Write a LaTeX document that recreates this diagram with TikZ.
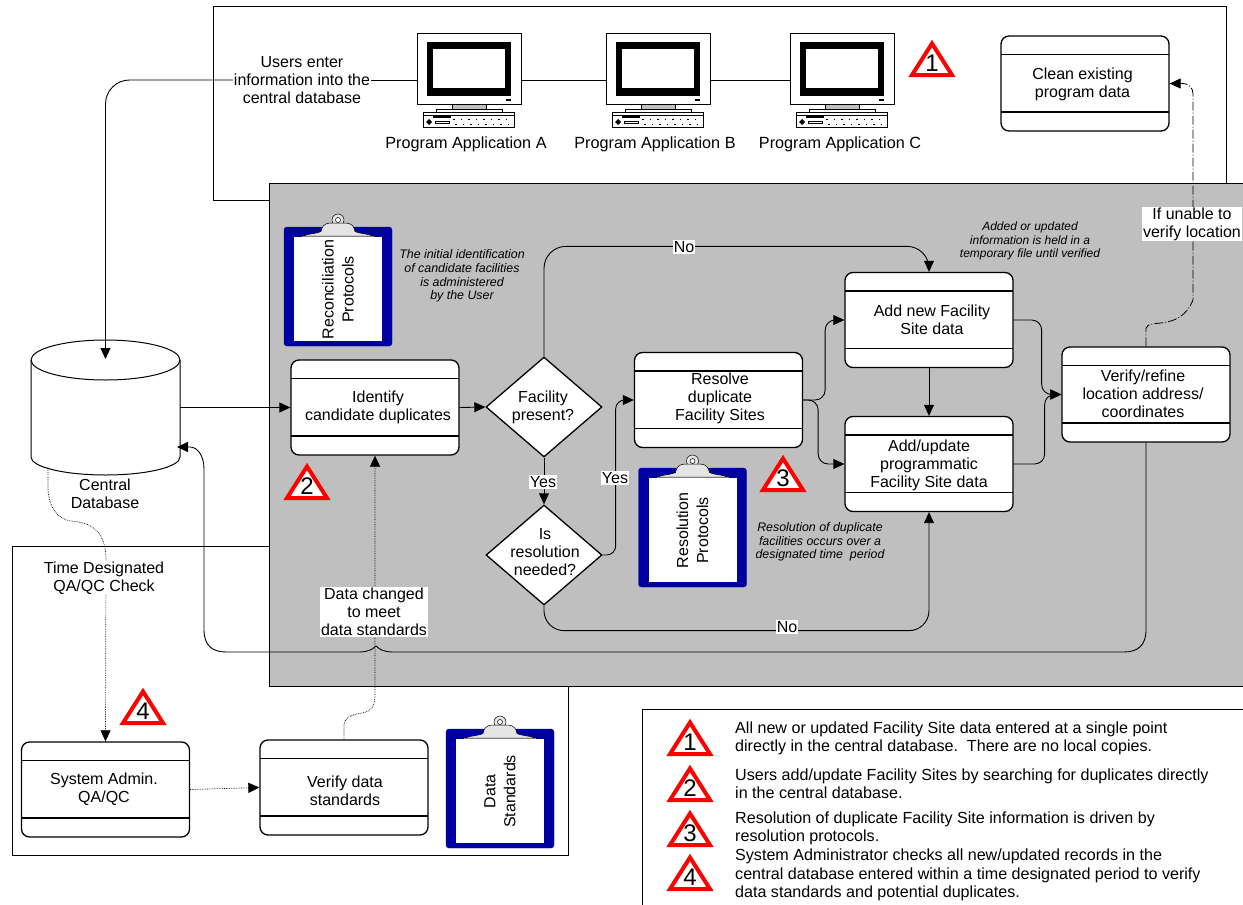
\documentclass[tikz,border=0pt]{standalone}
\usepackage{fontspec}
\setmainfont{Liberation Sans}
\usetikzlibrary{arrows.meta,shapes.geometric}
\definecolor{panelgray}{RGB}{191,191,191}
\definecolor{boardblue}{RGB}{0,0,160}
\tikzset{
  txt/.style={align=center,inner sep=1pt,font=\fontsize{16}{18}\selectfont},
  note/.style={align=center,inner sep=0pt,font=\fontsize{12.4}{13.6}\selectfont\itshape},
  legendtxt/.style={anchor=west,align=left,inner sep=0pt,font=\fontsize{16.1}{18.2}\selectfont},
  whitetxt/.style={txt,fill=white},
  procbox/.style={draw,fill=white,line width=1.3pt,rounded corners=8pt,minimum width=168pt,minimum height=95pt,inner sep=0pt,
    path picture={\draw[line width=1.3pt,sharp corners] ([yshift=-18.5pt]path picture bounding box.north west) -- ([yshift=-18.5pt]path picture bounding box.north east);
      \draw[line width=1.3pt,sharp corners] ([yshift=19pt]path picture bounding box.south west) -- ([yshift=19pt]path picture bounding box.south east);}},
  decision/.style={draw,fill=white,diamond,line width=1.3pt,inner sep=0pt,minimum width=116pt,minimum height=100pt},
  flow/.style={line width=0.9pt,-{Triangle[length=11pt,width=10pt]}},
  dotflow/.style={flow,line width=0.7pt,densely dotted},
  dashflow/.style={flow,line width=0.8pt,dash pattern=on 9pt off 2pt on 1pt off 2pt},
  pics/monitor/.style={code={
    \node (-frame) [draw,fill=white,line width=1pt,minimum width=104pt,minimum height=71pt,inner sep=0pt] at (0,0) {};
    \fill (-42,-27) rectangle (42,27);
    \fill[white] (-36,-20) rectangle (36,19);
    \fill (37,30) rectangle (42,32);
    \draw[fill=panelgray,line width=0.8pt] (-17,35.5) -- (-17,40) -- (17,40) -- (17,35.5);
    \draw[fill=white,line width=0.8pt] (-33,40) rectangle (33,43);
    \draw[fill=white,line width=1pt] (-46,43) rectangle (45,58);
    \draw[line width=0.6pt] (-46,46.5) -- (45,46.5);
    \fill (-36,46) rectangle (-18,48.5);
    \fill (-43,53) -- (-40,50) -- (-37,53) -- (-40,56) -- cycle;
    \draw[line width=0.6pt] (-34,52) rectangle (-20,54.5);
    \draw[line width=1pt,dash pattern=on 1.5pt off 6pt] (-16,50) -- (43,50);
    \draw[line width=1pt,dash pattern=on 1.5pt off 6pt] (-14,55) -- (43,55);
  }},
  pics/clipboard/.style={code={
    \draw[boardblue,fill=boardblue,rounded corners=3pt] (-54,-59.5) rectangle (54,59.5);
    \fill[white] (-44,-49.5) rectangle (44,54);
    \draw[line width=0.5pt,fill=gray!20] (0,-66.5) circle (6);
    \draw[line width=0.5pt,fill=gray!20] (-36,-50.5) .. controls (-28,-53) and (-20,-53) .. (-17,-55) .. controls (-16,-60) and (-14,-63) .. (-8,-63.5) -- (8,-63.5) .. controls (14,-63) and (16,-60) .. (17,-55) .. controls (20,-53) and (28,-53) .. (36,-50.5) -- cycle;
    \draw[line width=0.5pt,fill=white] (0,-66.5) circle (2.5);
    \draw[line width=1.3pt,gray] (-36,-50) -- (36,-50);
    \node (-label) [align=center,rotate=90,inner sep=0pt,font=\fontsize{16}{20}\selectfont] at (0,3) {#1};
  }},
  pics/warnsign/.style={code={
    \draw[red,fill=white,line width=4pt,miter limit=10] (0,-16.5) -- (20,15) -- (-20,15) -- cycle;
    \node (-num) [inner sep=0pt,font=\fontsize{24}{24}\selectfont] at (0,3.5) {#1};
  }},
}
\begin{document}
\begin{tikzpicture}[x=1pt,y=-1pt]
    \useasboundingbox (0,0) rectangle (1243,905);
    % frames and the gray panel
    \draw [line width=1pt] (213,6) rectangle (1226,200);
    \draw [line width=1pt] (12,546) rectangle (568,855);
    \fill [panelgray] (269,183) rectangle (1243,686);
    \draw [line width=1pt] (1243,183) -- (269,183) -- (269,686) -- (1243,686);
    \draw [line width=1pt] (1243,709) -- (642,709) -- (642,905);

    \pic (monA) at (469,69) {monitor};  \node (monAn) [txt,font=\fontsize{16.2}{18}\selectfont] at (466,144) {Program Application A};
    \pic (monB) at (658,69) {monitor};  \node (monBn) [txt,font=\fontsize{16.2}{18}\selectfont] at (655,144) {Program Application B};
    \pic (monC) at (842,69) {monitor};  \node (monCn) [txt,font=\fontsize{16.2}{18}\selectfont] at (840,144) {Program Application C};
    \node (users) [whitetxt] at (302,80) {Users enter\\information into the\\central database};

    \node (centraldb) [minimum width=149pt,minimum height=135pt,inner sep=0pt] at (105.5,407.5) {};
    \draw [fill=white,line width=1pt] (31,360) arc (180:360:74.5 and 20) -- (180,457) arc (0:180:74.5 and 18) -- cycle;
    \draw [line width=1pt] (31,360) arc (180:0:74.5 and 20);
    \coordinate (dbdrop) at (48,467);  \coordinate (dbin) at (177,447);
    \node (centraldbn) [txt] at (105,494) {Central\\Database};

    \node (clean) [procbox] at (1085,83.5) {};  \node (cleann) [txt] at (1082.5,84) {Clean existing\\program data};
    \node (identify) [procbox] at (375,407.5) {};  \node (identifyn) [txt] at (378,407) {Identify\\candidate duplicates};
    \node (resolve) [procbox] at (718.5,400) {};  \node (resolven) [txt] at (720,398.5) {Resolve\\duplicate\\Facility Sites};
    \node (addnew) [procbox] at (929,320) {};  \node (addnewn) [txt] at (932,320) {Add new Facility\\Site data};
    \node (addupdate) [procbox] at (929,464) {};  \node (addupdaten) [txt] at (929,465) {Add/update\\programmatic\\Facility Site data};
    \node (verifyloc) [procbox] at (1146,394.5) {};  \node (verifylocn) [txt] at (1143,394) {Verify/refine\\location address/\\coordinates};
    \node (sysadmin) [procbox] at (105.5,789.5) {};  \node (sysadminn) [txt] at (104,789) {System Admin.\\QA/QC};
    \node (verifydata) [procbox] at (344,787.5) {};  \node (verifydatan) [txt] at (345,791) {Verify data\\standards};
    \node (facility) [decision] at (544,407) {};  \node (facilityn) [txt] at (543,407) {Facility\\present?};
    \node (isres) [decision] at (544,555) {};  \node (isresn) [txt] at (545,552) {Is\\resolution\\needed?};

    \pic at (338,286.5) {clipboard={Reconciliation\\Protocols}};
    \pic at (692.5,527.5) {clipboard={Resolution\\Protocols}};
    \pic at (500,788.5) {clipboard={Data\\Standards}};

    \pic (tri1) at (932,60) {warnsign=1};  \pic (tri2) at (307,483) {warnsign=2};
    \pic (tri3) at (783,475) {warnsign=3};  \pic (tri4) at (143,708) {warnsign=4};
    \pic (key1) at (690,739) {warnsign=1};  \pic (key2) at (690,785) {warnsign=2};
    \pic (key3) at (690,830) {warnsign=3};  \pic (key4) at (690,874) {warnsign=4};

    \draw [line width=0.9pt] (users.east) -- (users.east -| monA-frame.west);
    \draw [line width=0.9pt] ([yshift=-11pt]monA-frame.east) -- ([yshift=-11pt]monB-frame.west);
    \draw [line width=0.9pt] ([yshift=-11pt]monB-frame.east) -- ([yshift=-11pt]monC-frame.west);
    \draw [flow,rounded corners=24pt] (users.west) -| (centraldb.north |- 0,359);
    \draw [flow] (centraldb.east) -- (identify.west);
    \draw [flow] (identify.east) -- (facility.west);
    \draw [flow] (facility.south) -- (isres.north);
    \draw [flow,rounded corners=22pt] (facility.north) -- ++(0,-110) -| (addnew.north);
    \draw [flow,rounded corners=9pt] (isres.east) -- ++(13,0) |- (resolve.west);
    \draw [flow,rounded corners=20pt] (isres.south) -- ++(0,25) -| (addupdate.south);
    \draw [flow,rounded corners=10pt] (resolve.east) -- ++(22,0) |- (addnew.west);
    \draw [flow,rounded corners=10pt] (resolve.east) -- ++(15,0) |- (addupdate.west);
    \draw [flow] (addnew.south) -- (addupdate.north);
    \draw [flow,rounded corners=10pt] (addnew.east) -- ++(28,0) |- (verifyloc.west);
    \draw [flow,rounded corners=10pt] (addupdate.east) -- ++(31,0) |- (verifyloc.west);
    \draw [flow] (verifyloc.south) -- (1146,630) .. controls (1146,645) and (1138,652) .. (1124,652) -- (393,652) .. controls (385,652) and (380,650) .. (376,646) .. controls (372,650) and (367,652) .. (359,652) -- (226,652) .. controls (212,652) and (204,645) .. (204,630) -- (204,469) .. controls (204,455) and (197,447) .. (190,447) -- (dbin);
    \draw [dashflow] (verifyloc.north) -- ++(0,-18) .. controls (1148,318) and (1180,332) .. (1193,300) [rounded corners=10pt] |- (clean.east);
    \draw [dotflow] (dbdrop) -- (48,490) .. controls (50,510) and (58,518) .. (70,521) .. controls (90,522) and (106,530) .. (106,560) -- (sysadmin.north);
    \draw [dotflow] (sysadmin.east) -- (verifydata.west);
    \draw [dotflow] (verifydata.north) -- (344,725) .. controls (345,716) and (352,715) .. (362,713) .. controls (372,711) and (375,706) .. (375,695) -- (identify.south);

    \node (nofac) [whitetxt] at (684,247) {No};
    \node (yesfac) [whitetxt] at (543,482) {Yes};
    \node (yesres) [whitetxt] at (615,478) {Yes};
    \node (nores) [whitetxt] at (787,627) {No};
    \node (unable) [whitetxt] at (1192,224) {If unable to\\verify location};
    \node (changed) [whitetxt] at (374,612) {Data changed\\to meet\\data standards};
    \node (timecheck) [whitetxt] at (104,578) {Time Designated\\QA/QC Check};

    \node (note1) [note] at (462,276) {The initial identification\\of candidate facilities\\is administered\\by the User};
    \node (note2) [note,font=\fontsize{12}{13.2}\selectfont\itshape] at (1030,241) {Added or updated\\information is held in a\\temporary file until verified};
    \node (note3) [note] at (820,542) {Resolution of duplicate\\facilities occurs over a\\designated time\ \ period};

    \node (legend1) [legendtxt] at (735,738) {All new or updated Facility Site data entered at a single point\\directly in the central database.\ \ There are no local copies.};
    \node (legend2) [legendtxt] at (735,784) {Users add/update Facility Sites by searching for duplicates directly\\in the central database.};
    \node (legend3) [legendtxt] at (735,828.5) {Resolution of duplicate Facility Site information is driven by\\resolution protocols.};
    \node (legend4) [legendtxt] at (735,875) {System Administrator checks all new/updated records in the\\central database entered within a time designated period to verify\\data standards and potential duplicates.};
\end{tikzpicture}
\end{document}
